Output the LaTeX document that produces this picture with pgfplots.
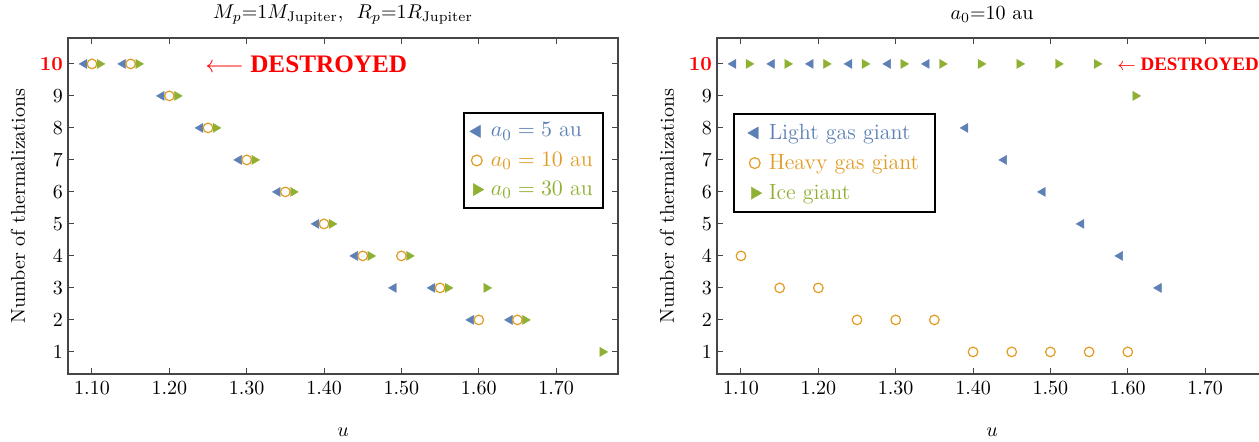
\documentclass[border=0pt]{standalone}
\usepackage{fontspec}
\usepackage{pgfplots}
\pgfplotsset{compat=1.18}
\newfontfamily\tnr{Liberation Serif}
\definecolor{mblue}{RGB}{94,129,181}
\definecolor{morange}{RGB}{225,156,36}
\definecolor{mgreen}{RGB}{143,176,50}
\definecolor{framegray}{RGB}{70,70,70}
\definecolor{dred}{RGB}{255,0,0}

\pgfplotsset{
  myaxis/.style={
    scale only axis, width=275pt, height=168pt,
    xmin=1.069, xmax=1.780, ymin=0.31, ymax=10.81,
    xtick={1.1,1.2,1.3,1.4,1.5,1.6,1.7},
    xticklabels={1.10,1.20,1.30,1.40,1.50,1.60,1.70},
    ytick={1,2,3,4,5,6,7,8,9,10},
    yticklabels={1,2,3,4,5,6,7,8,9,{\textcolor{dred}{\bfseries 10}}},
    tick align=inside, major tick length=3pt,
    tick style={framegray, line width=0.5pt},
    axis line style={framegray, line width=0.6pt},
    xlabel={$u$}, ylabel={Number of thermalizations},
    xlabel style={at={(axis description cs:0.5,0)}, anchor=center, yshift=-29pt},
    ylabel style={at={(axis description cs:-0.091,0.5)}, anchor=center},
    every axis title shift=0pt,
    title style={at={(axis description cs:0.5,1)}, anchor=center, yshift=11.5pt},
    yticklabel style={xshift=1pt},
    legend cell align=left,
    legend style={draw=black, line width=0.9pt, font=\fontsize{11}{13}\selectfont,
      row sep=2pt, inner xsep=3pt, inner ysep=3pt},
  },
  sblue/.style={only marks, mark=triangle*, mark size=2.6pt,
    mark options={rotate=90, fill=mblue, draw=mblue, line width=0.2pt},
    legend image post style={mark size=3.5pt}},
  sorange/.style={only marks, mark=*, mark size=2.4pt,
    mark options={fill=white, draw=morange, line width=0.6pt},
    legend image post style={mark size=2.7pt}},
  sgreen/.style={only marks, mark=triangle*, mark size=2.6pt,
    mark options={rotate=-90, fill=mgreen, draw=mgreen, line width=0.2pt},
    legend image post style={mark size=3.5pt}},
}

\begin{document}
\begin{tikzpicture}
% ---------- left panel ----------
\begin{axis}[myaxis, at={(34pt,34pt)}, anchor=south west,
  title={$M_p{=}1M_{\mathrm{Jupiter}}$,\ \ $R_p{=}1R_{\mathrm{Jupiter}}$},
  legend style={at={(axis description cs:0.718,0.780)}, anchor=north west}]
\addplot[sblue] coordinates {(1.09,10) (1.14,10) (1.19,9) (1.24,8) (1.29,7) (1.34,6)
  (1.39,5) (1.44,4) (1.49,3) (1.54,3) (1.59,2) (1.64,2)};
\addlegendentry{\hspace{1.5pt}\textcolor{mblue}{$a_0 = 5$ au}}
\addplot[sorange] coordinates {(1.10,10) (1.15,10) (1.20,9) (1.25,8) (1.30,7) (1.35,6)
  (1.40,5) (1.45,4) (1.50,4) (1.55,3) (1.60,2) (1.65,2)};
\addlegendentry{\hspace{1.5pt}\textcolor{morange}{$a_0 = 10$ au}}
\addplot[sgreen] coordinates {(1.11,10) (1.16,10) (1.21,9) (1.26,8) (1.31,7) (1.36,6)
  (1.41,5) (1.46,4) (1.51,4) (1.56,3) (1.61,3) (1.66,2) (1.76,1)};
\addlegendentry{\hspace{1.5pt}\textcolor{mgreen}{$a_0 = 30$ au}}
\node[anchor=west, inner sep=0pt, text=dred, font=\tnr\bfseries\fontsize{12.6}{15}\selectfont]
  at (axis cs:1.246,10) {$\longleftarrow$ DESTROYED};
\end{axis}
% ---------- right panel ----------
\begin{axis}[myaxis, at={(358.5pt,34pt)}, anchor=south west,
  title={$a_0{=}10$ au},
  legend image code/.code={\path (-4pt,0pt); \draw[#1] plot coordinates {(0pt,0pt)};},
  legend style={at={(axis description cs:0.029,0.777)}, anchor=north west, inner xsep=6pt}]
\addplot[sblue] coordinates {(1.09,10) (1.14,10) (1.19,10) (1.24,10) (1.29,10) (1.34,10)
  (1.39,8) (1.44,7) (1.49,6) (1.54,5) (1.59,4) (1.64,3)};
\addlegendentry{\hspace{1.5pt}\textcolor{mblue}{Light gas giant}}
\addplot[sorange] coordinates {(1.10,4) (1.15,3) (1.20,3) (1.25,2) (1.30,2) (1.35,2)
  (1.40,1) (1.45,1) (1.50,1) (1.55,1) (1.60,1)};
\addlegendentry{\hspace{1.5pt}\textcolor{morange}{Heavy gas giant}}
\addplot[sgreen] coordinates {(1.11,10) (1.16,10) (1.21,10) (1.26,10) (1.31,10) (1.36,10)
  (1.41,10) (1.46,10) (1.51,10) (1.56,10) (1.61,9)};
\addlegendentry{\hspace{1.5pt}\textcolor{mgreen}{Ice giant}}
\node[anchor=west, inner sep=0pt, text=dred, font=\tnr\bfseries\fontsize{9.5}{11}\selectfont]
  at (axis cs:1.586,10) {$\leftarrow$ DESTROYED};
\end{axis}
\pgfresetboundingbox
\path[use as bounding box] (0,0) rectangle (629.5pt,221pt);
\end{tikzpicture}
\end{document}
